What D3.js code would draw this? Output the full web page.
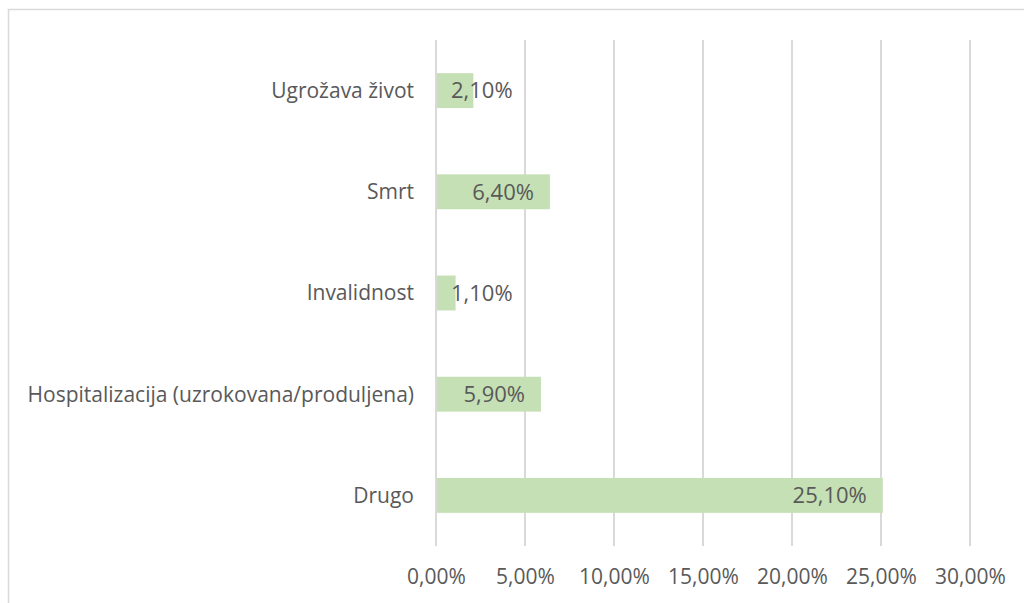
<!DOCTYPE html>
<html><head><meta charset="utf-8">
<script src="https://cdn.jsdelivr.net/npm/d3@7"></script>
<style>
html,body{margin:0;padding:0;background:#fff;}
svg{display:block;}
text{font-family:"Open Sans",sans-serif;fill:#595959;}
</style></head>
<body>
<svg id="chart" width="1024" height="603"></svg>
<script>
const categories = ["Ugrožava život","Smrt","Invalidnost","Hospitalizacija (uzrokovana/produljena)","Drugo"];
const values = [2.1, 6.4, 1.1, 5.9, 25.1];
const ticks = [0,5,10,15,20,25,30];
const fmt = v => v.toFixed(2).replace(".", ",") + "%";

const svg = d3.select("#chart");
const plot = {left:436, right:970, top:40, bottom:546};

// chart border
svg.append("rect").attr("x",8.5).attr("y",9.5).attr("width",1030).attr("height",610)
  .attr("fill","none").attr("stroke","#D9D9D9").attr("stroke-width",1.5);

const x = d3.scaleLinear().domain([0,30]).range([plot.left, plot.right]);
const y = d3.scaleBand().domain(categories).range([plot.top, plot.bottom]).paddingInner(0.655).paddingOuter(0.3275);

// gridlines
svg.append("g").selectAll("line").data(ticks).join("line")
  .attr("x1",d=>x(d)).attr("x2",d=>x(d))
  .attr("y1",plot.top).attr("y2",plot.bottom)
  .attr("stroke","#D9D9D9").attr("stroke-width",2);

// x axis labels
const xAxis = d3.axisBottom(x).tickValues(ticks).tickFormat(fmt).tickSize(0).tickPadding(0);
const gx = svg.append("g").attr("transform",`translate(0,${plot.bottom})`).call(xAxis);
gx.select(".domain").remove();
gx.selectAll("text").attr("y",31).attr("dy","0.35em").attr("font-size",21).style("font-family",'"Open Sans",sans-serif').attr("fill","#595959");

// y axis labels
const yAxis = d3.axisLeft(y).tickSize(0).tickPadding(0);
const gy = svg.append("g").attr("transform",`translate(${plot.left-22},0)`).call(yAxis);
gy.select(".domain").remove();
gy.selectAll("text").attr("dy","0.35em").attr("font-size",21).style("font-family",'"Open Sans",sans-serif').attr("fill","#595959");

// bars
svg.append("g").selectAll("rect").data(categories).join("rect")
  .attr("x",x(0)+1).attr("y",d=>y(d))
  .attr("width",(d,i)=>x(values[i])-x(0)-1).attr("height",y.bandwidth())
  .attr("fill","#C5E0B4");

// data labels
const lbl = svg.append("g").selectAll("text").data(categories).join("text")
  .attr("y",d=>y(d)+y.bandwidth()/2).attr("dy","0.35em")
  .attr("font-size",22).attr("text-anchor","end")
  .text((d,i)=>fmt(values[i]));
lbl.each(function(d,i){
  const w = this.getComputedTextLength();
  const xe = Math.max(x(values[i]) - 16, x(0) + 15 + w);
  d3.select(this).attr("x", xe);
});
</script>
</body></html>
